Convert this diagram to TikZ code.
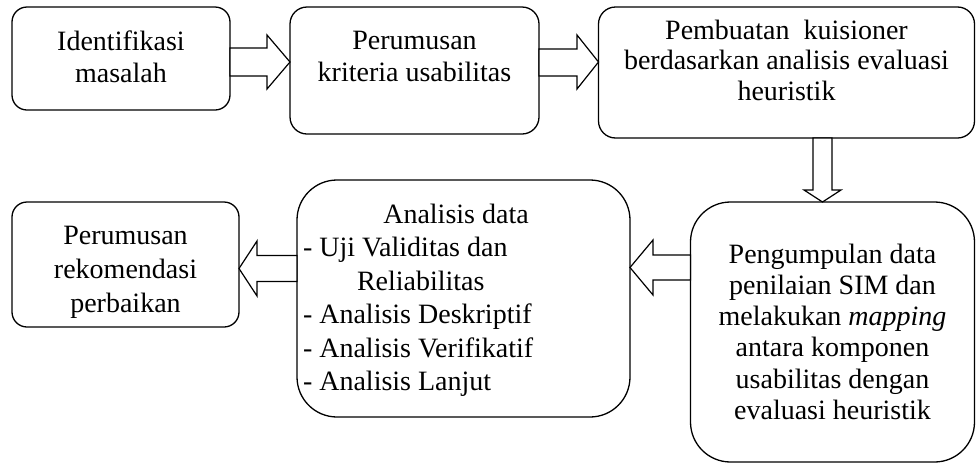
\documentclass[tikz,border=0pt]{standalone}
\usepackage{fontspec}
\setmainfont{Liberation Serif}
\usetikzlibrary{calc}
\begin{document}
\begin{tikzpicture}[x=1pt,y=-1pt,
  box/.style={draw=black, line width=1.3pt, inner sep=0pt, outer sep=0pt, rectangle},
  txt/.style={inner sep=0pt, outer sep=0pt, anchor=north, align=center, text=black},
  barrow/.style={draw=black, line width=1.2pt, fill=white, line join=miter}]
\useasboundingbox (0,0) rectangle (977,464);
% boxes
\node[box, minimum width=218, minimum height=103, rounded corners=15] (b1) at (121,58.5) {};
\node[box, minimum width=249, minimum height=127, rounded corners=17] (b2) at (414.5,70.5) {};
\node[box, minimum width=376, minimum height=131, rounded corners=17] (b3) at (786.5,72.5) {};
\node[box, minimum width=284, minimum height=260, rounded corners=40] (b4) at (832.5,332) {};
\node[box, minimum width=333, minimum height=237, rounded corners=40] (b5) at (463.5,298.5) {};
\node[box, minimum width=227, minimum height=125, rounded corners=15] (b6) at (125.5,264.5) {};
% texts
\node[txt, font=\fontsize{28}{32}\selectfont] (t1) at (121,30.9) {Identifikasi\\masalah};
\node[txt, font=\fontsize{28}{32}\selectfont] (t2) at (414.5,30.9) {Perumusan\\kriteria usabilitas};
\node[txt, font=\fontsize{28}{30.5}\selectfont] (t3) at (786.5,19.9) {Pembuatan\ \ kuisioner\\berdasarkan analisis evaluasi\\heuristik};
\node[txt, font=\fontsize{28}{31.2}\selectfont] (t4) at (832.5,243.9) {Pengumpulan data\\penilaian SIM dan\\melakukan \textit{mapping}\\antara komponen\\usabilitas dengan\\evaluasi heuristik};
\node[txt, font=\fontsize{28}{33.5}\selectfont] (t5a) at (456,203.9) {Analisis data};
\node[txt, anchor=north west, align=left, font=\fontsize{28}{33.5}\selectfont] (t5) at (303,237.4) {- Uji Validitas dan\\\hspace*{54pt}Reliabilitas\\- Analisis Deskriptif\\- Analisis Verifikatif\\- Analisis Lanjut};
\node[txt, font=\fontsize{28}{34}\selectfont] (t6) at (125.5,225.9) {Perumusan\\rekomendasi\\perbaikan};
% block arrows
\draw[barrow] (b1.east |- 0,48) -- (267,48) -- (267,35) -- (b2.west |- 0,62) -- (267,89) -- (267,76) -- (b1.east |- 0,76) -- cycle;
\draw[barrow] (b2.east |- 0,49) -- (577,49) -- (577,35) -- (b3.west |- 0,62) -- (577,89) -- (577,76) -- (b2.east |- 0,76) -- cycle;
\draw[barrow] (813,0 |- b3.south) -- (813,190) -- (804,190) -- (822.5,0 |- b4.north) -- (841,190) -- (832,190) -- (832,0 |- b3.south) -- cycle;
\draw[barrow] (b4.west |- 0,255) -- (653,255) -- (653,240) -- (b5.east |- 0,267.5) -- (653,295) -- (653,280) -- (b4.west |- 0,280) -- cycle;
\draw[barrow] (b5.west |- 0,255.5) -- (257,255.5) -- (257,241) -- (b6.east |- 0,268.5) -- (257,296) -- (257,281.5) -- (b5.west |- 0,281.5) -- cycle;
\end{tikzpicture}
\end{document}
